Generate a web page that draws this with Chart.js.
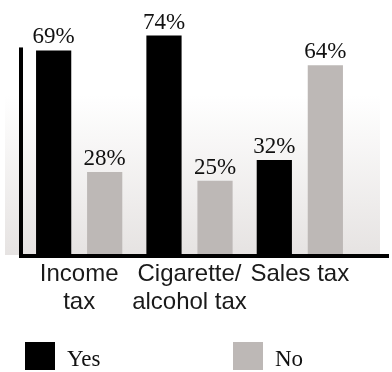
<!DOCTYPE html>
<html>
<head>
<meta charset="utf-8">
<script src="https://cdn.jsdelivr.net/npm/chart.js@4/dist/chart.umd.min.js"></script>
<style>
  html, body { margin: 0; padding: 0; background: #ffffff; }
  #wrap { width: 392px; height: 372px; position: relative; }
</style>
</head>
<body>
<div id="wrap"><canvas id="chart" width="392" height="372"></canvas></div>
<script>
// ---- data ----
const categories = [['Income', 'tax'], ['Cigarette/', 'alcohol tax'], ['Sales tax']];
const seriesNames = ['Yes', 'No'];
const yesValues = [69, 74, 32];
const noValues = [28, 25, 64];
const valueSuffix = '%';
const yAxisTopValue = 70;

// ---- styles ----
const yesColor = '#000000';
const noColor = '#bdb8b6';
const serifFont = '"Liberation Serif", "Times New Roman", serif';
const sansFont = '"Liberation Sans", Arial, sans-serif';

const backgroundPlugin = {
  id: 'bgGradient',
  beforeDraw(chart) {
    const { ctx, chartArea } = chart;
    ctx.save();
    ctx.fillStyle = '#ffffff';
    ctx.fillRect(0, 0, chart.width, chart.height);
    const top = chartArea.bottom - 160;
    const g = ctx.createLinearGradient(0, top, 0, chartArea.bottom);
    g.addColorStop(0, '#ffffff');
    g.addColorStop(1, '#e6e3e2');
    ctx.fillStyle = g;
    const left = chartArea.left - 19;
    const right = chartArea.right + 25;
    ctx.fillRect(left, top, right - left, chartArea.bottom - top);
    ctx.restore();
  }
};

const axisPlugin = {
  id: 'axisLines',
  afterDatasetsDraw(chart) {
    const { ctx, chartArea, scales } = chart;
    const y0 = scales.y.getPixelForValue(0) + 1;
    const yTop = scales.y.getPixelForValue(yAxisTopValue);
    const xAxis = chartArea.left - 3;
    ctx.save();
    ctx.strokeStyle = '#000000';
    ctx.lineWidth = 4;
    ctx.lineCap = 'butt';
    ctx.beginPath();
    ctx.moveTo(xAxis, yTop);
    ctx.lineTo(xAxis, y0 + 2);
    ctx.stroke();
    ctx.beginPath();
    ctx.moveTo(xAxis - 2, y0);
    ctx.lineTo(chart.width - 3, y0);
    ctx.stroke();
    ctx.restore();
  }
};

const valueLabelPlugin = {
  id: 'valueLabels',
  afterDatasetsDraw(chart) {
    const { ctx } = chart;
    ctx.save();
    ctx.font = '23px ' + serifFont;
    ctx.fillStyle = '#111111';
    ctx.textAlign = 'center';
    ctx.textBaseline = 'alphabetic';
    chart.data.datasets.forEach((ds, di) => {
      const meta = chart.getDatasetMeta(di);
      meta.data.forEach((bar, i) => {
        ctx.fillText(ds.data[i] + valueSuffix, bar.x, bar.y - 7);
      });
    });
    ctx.restore();
  }
};

const legendPlugin = {
  id: 'customLegend',
  afterDraw(chart) {
    const { ctx } = chart;
    const itemX = [25, 233];
    const boxW = 30, boxH = 28;
    const boxTop = chart.height - 30;
    ctx.save();
    ctx.font = '23px ' + serifFont;
    ctx.textAlign = 'left';
    ctx.textBaseline = 'alphabetic';
    chart.data.datasets.forEach((ds, di) => {
      ctx.fillStyle = ds.backgroundColor;
      ctx.fillRect(itemX[di], boxTop, boxW, boxH);
      ctx.fillStyle = '#111111';
      ctx.fillText(ds.label, itemX[di] + boxW + 12, boxTop + 24);
    });
    ctx.restore();
  }
};

new Chart(document.getElementById('chart'), {
  type: 'bar',
  data: {
    labels: categories,
    datasets: [
      { label: seriesNames[0], data: yesValues, backgroundColor: yesColor },
      { label: seriesNames[1], data: noValues, backgroundColor: noColor }
    ]
  },
  options: {
    responsive: false,
    animation: false,
    devicePixelRatio: 1,
    layout: { padding: { left: 24, right: 37, top: 0, bottom: 51 } },
    datasets: { bar: { barPercentage: 0.69, categoryPercentage: 0.925 } },
    scales: {
      x: {
        offset: true,
        grid: { display: false, drawTicks: false },
        border: { display: false },
        ticks: {
          color: '#1a1a1a',
          font: { family: sansFont, size: 24, lineHeight: 1.1667 },
          padding: 5,
          maxRotation: 0,
          autoSkip: false
        }
      },
      y: { display: false, min: 0, max: 86 }
    },
    plugins: {
      legend: { display: false },
      tooltip: { enabled: false }
    }
  },
  plugins: [backgroundPlugin, axisPlugin, valueLabelPlugin, legendPlugin]
});
</script>
</body>
</html>
